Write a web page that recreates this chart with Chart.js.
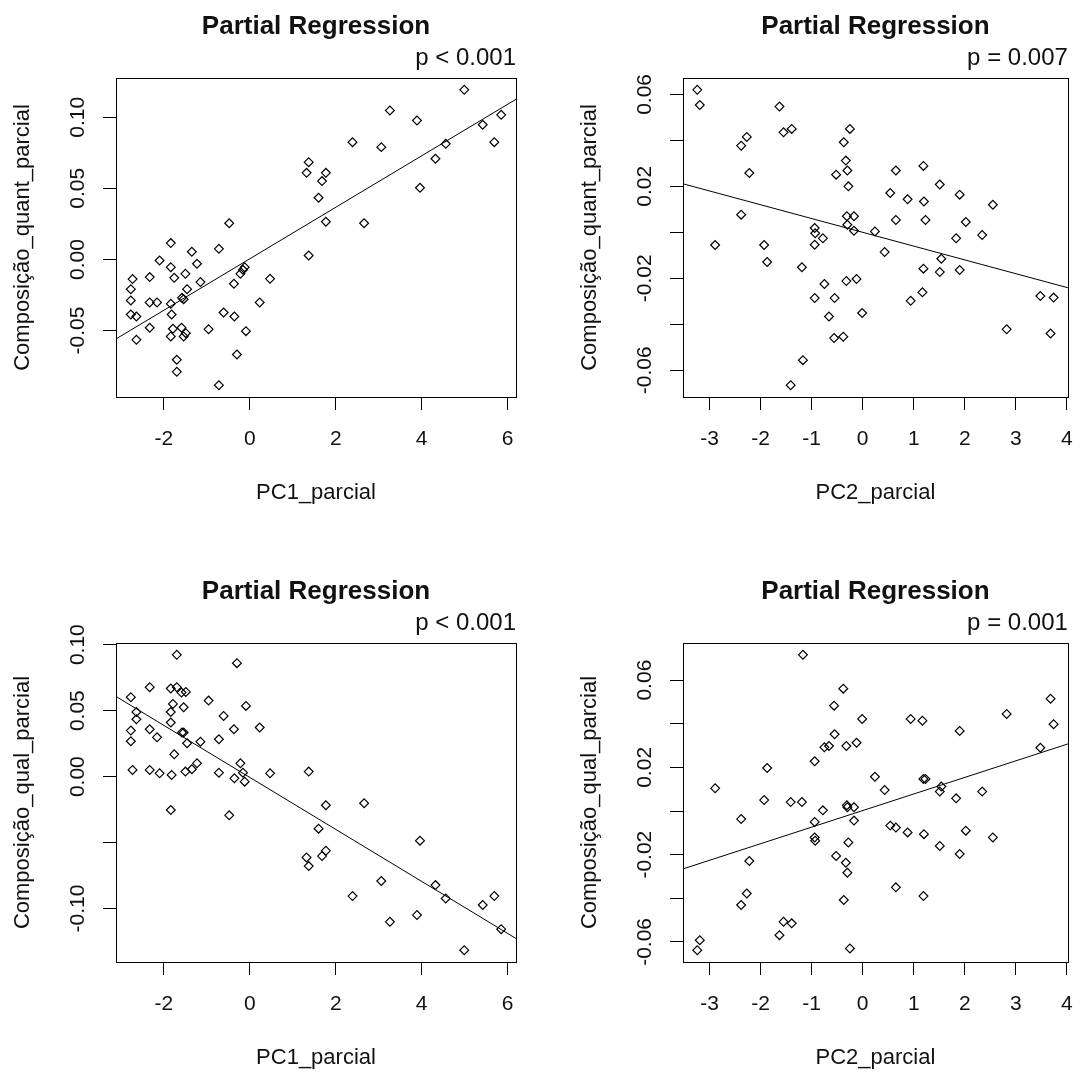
<!DOCTYPE html>
<html>
<head>
<meta charset="utf-8">
<title>Partial Regression</title>
<script src="https://cdn.jsdelivr.net/npm/chart.js@4.4.1/dist/chart.umd.min.js"></script>
<style>
  html, body { margin: 0; padding: 0; background: #fff; overflow: hidden; width: 1092px; height: 1072px; }
  .panel { position: absolute; }
</style>
</head>
<body>
<canvas id="p1" class="panel" width="546" height="536" style="left:0px;top:0px"></canvas>
<canvas id="p2" class="panel" width="525" height="536" style="left:567px;top:0px"></canvas>
<canvas id="p3" class="panel" width="546" height="536" style="left:0px;top:565px"></canvas>
<canvas id="p4" class="panel" width="525" height="536" style="left:567px;top:565px"></canvas>
<script>
/* =========================
   DATA
========================== */
const pc1Partial = [
  -2.77, -2.77, -2.77, -2.73, -2.64, -2.64, -2.33, -2.33, -2.33, -2.16,
  -2.10, -1.84, -1.84, -1.84, -1.82, -1.84, -1.79, -1.76, -1.70, -1.70,
  -1.59, -1.58, -1.54, -1.54, -1.50, -1.49, -1.46, -1.35, -1.23, -1.15,
  -0.96, -0.72, -0.72, -0.61, -0.48, -0.37, -0.36, -0.30, -0.22, -0.16,
  -0.12, -0.09, 0.23, 0.47, 1.32, 1.37, 1.37, 1.60, 1.68, 1.77,
  1.77, 2.39, 2.66, 3.06, 3.26, 3.89, 3.96, 4.32, 4.56, 4.99,
  5.42, 5.69, 5.85
];
const quantVsPc1 = [
  -0.0209, -0.0288, -0.0387, -0.0138, -0.0401, -0.0565, -0.0124, -0.0302, -0.0480, -0.0302,
  -0.0007, 0.0115, -0.0054, -0.0312, -0.0387, -0.0541, -0.0487, -0.0129, -0.0705, -0.0790,
  -0.0480, -0.0270, -0.0279, -0.0541, -0.0101, -0.0518, -0.0209, 0.0054, -0.0030, -0.0159,
  -0.0490, 0.0075, -0.0884, -0.0373, 0.0255, -0.0171, -0.0401, -0.0668, -0.0101, -0.0073,
  -0.0054, -0.0504, -0.0302, -0.0136, 0.0609, 0.0684, 0.0028, 0.0434, 0.0551, 0.0609,
  0.0265, 0.0825, 0.0255, 0.0790, 0.1048, 0.0977, 0.0504, 0.0708, 0.0813, 0.1193,
  0.0947, 0.0825, 0.1017
];
const qualVsPc1 = [
  0.0602, 0.0349, 0.0268, 0.0051, 0.0490, 0.0435, 0.0678, 0.0359, 0.0051, 0.0298,
  0.0025, 0.0668, 0.0490, 0.0410, 0.0013, -0.0253, 0.0551, 0.0169, 0.0923, 0.0678,
  0.0637, 0.0334, 0.0526, 0.0334, 0.0038, 0.0642, 0.0253, 0.0056, 0.0101, 0.0265,
  0.0576, 0.0283, 0.0030, 0.0460, -0.0293, 0.0359, -0.0013, 0.0860, 0.0101, 0.0030,
  -0.0038, 0.0536, 0.0372, 0.0025, -0.0612, -0.0678, 0.0038, -0.0394, -0.0602, -0.0561,
  -0.0217, -0.0905, -0.0202, -0.0791, -0.1100, -0.1049, -0.0485, -0.0822, -0.0923, -0.1315,
  -0.0973, -0.0905, -0.1156
];

const pc2Partial = [
  -3.24, -3.19, -2.89, -2.38, -2.38, -2.27, -2.22, -1.93, -1.87, -1.63,
  -1.55, -1.39, -1.41, -1.19, -1.17, -0.94, -0.93, -0.94, -0.94, -0.78,
  -0.75, -0.66, -0.56, -0.55, -0.52, -0.38, -0.37, -0.33, -0.32, -0.31,
  -0.30, -0.30, -0.28, -0.25, -0.17, -0.17, -0.12, -0.01, 0.24, 0.43,
  0.54, 0.65, 0.65, 0.88, 0.94, 1.17, 1.19, 1.20, 1.23, 1.19,
  1.51, 1.51, 1.54, 1.83, 1.90, 1.90, 2.02, 2.34, 2.55, 2.82,
  3.48, 3.68, 3.74
];
const quantVsPc2 = [
  0.0620, 0.0554, -0.0055, 0.0377, 0.0077, 0.0415, 0.0258, -0.0055, -0.0129, 0.0547,
  0.0435, 0.0450, -0.0665, -0.0152, -0.0556, 0.0019, -0.0004, -0.0054, -0.0286, -0.0026,
  -0.0225, -0.0366, -0.0460, -0.0286, 0.0251, -0.0454, 0.0392, 0.0312, -0.0212, 0.0070,
  0.0269, 0.0033, 0.0200, 0.0450, 0.0070, 0.0007, -0.0203, -0.0351, 0.0004, -0.0086,
  0.0171, 0.0269, 0.0054, 0.0144, -0.0298, -0.0261, 0.0289, 0.0134, 0.0054, -0.0158,
  0.0208, -0.0173, -0.0115, -0.0026, 0.0164, -0.0164, 0.0045, -0.0012, 0.0120, -0.0422,
  -0.0277, -0.0440, -0.0284
];
const qualVsPc2 = [
  -0.0638, -0.0592, 0.0104, -0.0431, -0.0037, -0.0378, -0.0229, 0.0050, 0.0197, -0.0569,
  -0.0508, -0.0515, 0.0041, 0.0041, 0.0716, -0.0121, -0.0136, -0.0050, 0.0228, 0.0003,
  0.0292, 0.0298, 0.0483, 0.0352, -0.0206, 0.0561, -0.0408, -0.0237, 0.0298, 0.0026,
  -0.0283, 0.0017, -0.0144, -0.0630, 0.0017, -0.0044, 0.0313, 0.0422, 0.0157, 0.0096,
  -0.0067, -0.0350, -0.0076, -0.0098, 0.0422, 0.0414, -0.0390, -0.0106, 0.0147, 0.0147,
  -0.0160, 0.0089, 0.0112, 0.0058, -0.0197, 0.0367, -0.0090, 0.0089, -0.0121, 0.0445,
  0.0290, 0.0515, 0.0398
];

// fitted lines: [intercept, slope]
const fitQuantPc1 = [0.0005, 0.0181];
const fitQuantPc2 = [0.0000, -0.0060];
const fitQualPc1 = [-0.0006, -0.0197];
const fitQualPc2 = [0.0002, 0.0076];

const pc1Ticks = [-2, 0, 2, 4, 6];
const pc1TickLabels = ["-2", "0", "2", "4", "6"];
const pc2Ticks = [-3, -2, -1, 0, 1, 2, 3, 4];
const pc2TickLabels = ["-3", "-2", "-1", "0", "1", "2", "3", "4"];
const quantPc1Ticks = [-0.05, 0, 0.05, 0.10];
const quantPc1TickLabels = ["-0.05", "0.00", "0.05", "0.10"];
const compPc2Ticks = [-0.06, -0.04, -0.02, 0, 0.02, 0.04, 0.06];
const compPc2TickLabels = ["-0.06", "", "-0.02", "", "0.02", "", "0.06"];
const qualPc1Ticks = [-0.10, -0.05, 0, 0.05, 0.10];
const qualPc1TickLabels = ["-0.10", "", "0.00", "0.05", "0.10"];

const pValues = ["p < 0.001", "p = 0.007", "p < 0.001", "p = 0.001"];

/* =========================
   HELPERS
========================== */
const FONT = "'Liberation Sans', Arial, Helvetica, sans-serif";
const INK = "#111";
const TICK_SIZE = 21;
const measureCtx = document.createElement("canvas").getContext("2d");
measureCtx.font = TICK_SIZE + "px " + FONT;

// R default axis range: data range widened by 4% on each side
function rRange(values) {
    const lo = Math.min(...values);
    const hi = Math.max(...values);
    const pad = (hi - lo) * 0.04;
    return [lo - pad, hi + pad];
}

const boxPlugin = {
    id: "rBox",
    afterDraw(chart) {
        const { ctx, chartArea: a } = chart;
        ctx.save();
        ctx.strokeStyle = "#000";
        ctx.lineWidth = 1;
        ctx.strokeRect(Math.round(a.left) + 0.5, Math.round(a.top) + 0.5,
            Math.round(a.right - a.left), Math.round(a.bottom - a.top));
        ctx.restore();
    }
};

function makePanel(canvasId, o) {
    const [xMin, xMax] = rRange(o.x);
    const [yMin, yMax] = rRange(o.y);
    const points = o.x.map((x, i) => ({ x, y: o.y[i] }));
    const fitLine = [xMin, xMax].map(x => ({ x, y: o.fit[0] + o.fit[1] * x }));
    const widest = Math.max(...o.yLabels.map(t => measureCtx.measureText(t).width));

    const tickFont = { family: FONT, size: TICK_SIZE, lineHeight: 1 };
    const labelFont = { family: FONT, size: 22, lineHeight: 1 };
    const grid = { drawOnChartArea: false, drawTicks: true, tickLength: 13, color: "#000", lineWidth: 1 };

    return new Chart(document.getElementById(canvasId), {
        type: "scatter",
        data: {
            datasets: [{
                data: points,
                pointStyle: "rectRot",
                pointRadius: 4.4,
                pointBorderWidth: 1.2,
                pointBorderColor: "#000",
                pointBackgroundColor: "rgba(0,0,0,0)",
                borderColor: "#000"
            }, {
                data: fitLine,
                showLine: true,
                pointRadius: 0,
                borderWidth: 1,
                borderColor: "#000",
                fill: false
            }]
        },
        options: {
            responsive: false,
            animation: false,
            events: [],
            layout: { padding: { left: 0, top: 0, bottom: 0, right: o.rightPad } },
            plugins: {
                legend: { display: false },
                tooltip: { enabled: false },
                title: {
                    display: true,
                    text: "Partial Regression",
                    fullSize: false,
                    color: INK,
                    font: { family: FONT, size: 26, weight: "bold", lineHeight: 1 },
                    padding: { top: 13.5, bottom: 0 }
                },
                subtitle: {
                    display: true,
                    text: o.p,
                    fullSize: false,
                    align: "end",
                    color: INK,
                    font: { family: FONT, size: 24, lineHeight: 1 },
                    padding: { top: 6.9, bottom: 7.6 }
                }
            },
            scales: {
                x: {
                    type: "linear",
                    min: xMin,
                    max: xMax,
                    afterBuildTicks: s => { s.ticks = o.xTicks.map(v => ({ value: v })); },
                    afterFit: s => { s.height = 139; },
                    grid,
                    border: { display: false },
                    ticks: {
                        autoSkip: false,
                        minRotation: 0,
                        maxRotation: 0,
                        padding: 19.2,
                        color: INK,
                        font: tickFont,
                        callback: (v, i) => o.xLabels[i]
                    },
                    title: {
                        display: true,
                        text: o.xTitle,
                        color: INK,
                        font: labelFont,
                        padding: { top: 0, bottom: 32.5 }
                    }
                },
                y: {
                    type: "linear",
                    min: yMin,
                    max: yMax,
                    afterBuildTicks: s => { s.ticks = o.yTicks.map(v => ({ value: v })); },
                    afterFit: s => { s.width = 116; },
                    grid,
                    border: { display: false },
                    ticks: {
                        autoSkip: false,
                        minRotation: 90,
                        maxRotation: 90,
                        crossAlign: "center",
                        padding: 25 - widest / 2,
                        color: INK,
                        font: tickFont,
                        callback: (v, i) => o.yLabels[i]
                    },
                    title: {
                        display: true,
                        text: o.yTitle,
                        color: INK,
                        font: labelFont,
                        padding: { top: 12.4, bottom: 0 }
                    }
                }
            }
        },
        plugins: [boxPlugin]
    });
}

/* =========================
   PANELS
========================== */
makePanel("p1", {
    x: pc1Partial, y: quantVsPc1, fit: fitQuantPc1, p: pValues[0], rightPad: 30,
    xTicks: pc1Ticks, xLabels: pc1TickLabels, yTicks: quantPc1Ticks, yLabels: quantPc1TickLabels,
    xTitle: "PC1_parcial", yTitle: "Composição_quant_parcial"
});
makePanel("p2", {
    x: pc2Partial, y: quantVsPc2, fit: fitQuantPc2, p: pValues[1], rightPad: 10,
    xTicks: pc2Ticks, xLabels: pc2TickLabels, yTicks: compPc2Ticks, yLabels: compPc2TickLabels,
    xTitle: "PC2_parcial", yTitle: "Composição_quant_parcial"
});
makePanel("p3", {
    x: pc1Partial, y: qualVsPc1, fit: fitQualPc1, p: pValues[2], rightPad: 30,
    xTicks: pc1Ticks, xLabels: pc1TickLabels, yTicks: qualPc1Ticks, yLabels: qualPc1TickLabels,
    xTitle: "PC1_parcial", yTitle: "Composição_qual_parcial"
});
makePanel("p4", {
    x: pc2Partial, y: qualVsPc2, fit: fitQualPc2, p: pValues[3], rightPad: 10,
    xTicks: pc2Ticks, xLabels: pc2TickLabels, yTicks: compPc2Ticks, yLabels: compPc2TickLabels,
    xTitle: "PC2_parcial", yTitle: "Composição_qual_parcial"
});
</script>
</body>
</html>
